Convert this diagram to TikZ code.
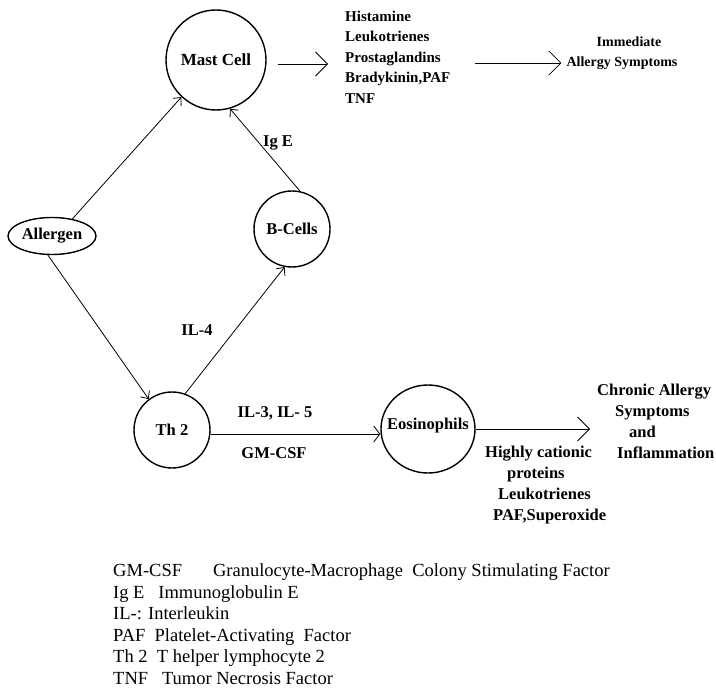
\documentclass[tikz,border=0pt]{standalone}
\usepackage{fontspec}
\setmainfont{Liberation Serif}
\usetikzlibrary{arrows.meta, shapes.geometric, calc}

\begin{document}
\begin{tikzpicture}[
    x=1pt, y=-1pt,
    font=\fontsize{16.5}{21}\selectfont\bfseries,
    cell/.style={circle, draw, line width=1.4pt, inner sep=0pt, minimum size=76pt},
    oval/.style={ellipse, draw, line width=1.4pt, inner sep=0pt},
    toplbl/.style={font=\fontsize{15}{20.5}\selectfont\bfseries, inner sep=0pt},
    lbl/.style={inner sep=0pt, align=center},
    arr/.style={-{Straight Barb[length=6pt, width=11pt]}, line width=0.8pt},
    bigarr/.style={-{Straight Barb[length=12pt, width=24pt]}, line width=0.8pt}
]
\useasboundingbox (0,0) rectangle (716,698);

% cells
\node[cell, minimum size=100pt, font=\fontsize{17}{20}\selectfont\bfseries] (mast) at (216,60) {Mast Cell};
\node[oval, minimum width=88pt, minimum height=37pt] (allergen) at (52,236) {Allergen};
\node[cell] (bcell) at (292,229) {B-Cells};
\node[cell] (th) at (172,430) {Th 2};
\node[oval, minimum width=94pt, minimum height=88pt] (eos) at (428,429) {};
\node[lbl, yshift=3pt] (eostxt) at (eos) {Eosinophils};

% mediators and symptoms
\node[toplbl, align=left, anchor=west] (med) at (345,57) {Histamine\\Leukotrienes\\Prostaglandins\\Bradykinin,PAF\\TNF};
\node[toplbl, align=center, font=\fontsize{14}{20}\selectfont\bfseries] (imm) at (622,53) {\hspace*{14pt}Immediate\\Allergy Symptoms};
\node[lbl, align=left, anchor=west] (eosmed) at (485,485) {Highly cationic\\\hspace*{22pt}proteins\\\hspace*{13pt}Leukotrienes\\\hspace*{8pt}PAF,Superoxide};
\node[lbl, align=left, anchor=west] (chronic) at (597,421) {Chronic Allergy\\\hspace*{18pt}Symptoms\\\hspace*{32pt}and\\\hspace*{20pt}Inflammation};

% edge labels
\node[lbl] (ige) at (278,143) {Ig E};
\node[lbl] (il4) at (197,330) {IL-4};
\node[lbl] (il35) at (275,413) {IL-3, IL- 5};
\node[lbl] (gmcsf) at (274,453) {GM-CSF};

% arrows
\draw[arr] (allergen.40) -- (mast.-133);
\draw[arr] (bcell.78) -- (mast.-74);
\draw[arr] (allergen.-102) -- (th.127);
\draw[arr] (th.70) -- (bcell.-101);
\draw[arr, -{Straight Barb[length=6pt, width=16pt]}] ([yshift=-4pt]th.east) -- ([yshift=-4pt]th.east -| eos.west);
\draw[bigarr, shorten <=11pt, shorten >=17pt] ([yshift=-4pt]mast.east) -- ([yshift=-4pt]mast.east -| med.west);
\draw[bigarr, shorten <=24pt, shorten >=5pt] ([yshift=-6pt]med.east) -- ([yshift=-6pt]med.east -| imm.west);
\draw[bigarr, shorten >=7pt] (eos.east) -- (eos.east -| chronic.west);

% legend
\node[anchor=west, align=left, inner sep=0pt, font=\fontsize{18.5}{21.5}\selectfont] (legend) at (113,624) {GM-CSF\hspace{31pt}Granulocyte-Macrophage\ \ Colony Stimulating Factor\\Ig E\ \ \ Immunoglobulin E\\IL-: Interleukin\\PAF\ \ Platelet-Activating\ \ Factor\\Th 2\ \ T helper lymphocyte 2\\TNF\ \ \ Tumor Necrosis Factor};
\end{tikzpicture}
\end{document}
